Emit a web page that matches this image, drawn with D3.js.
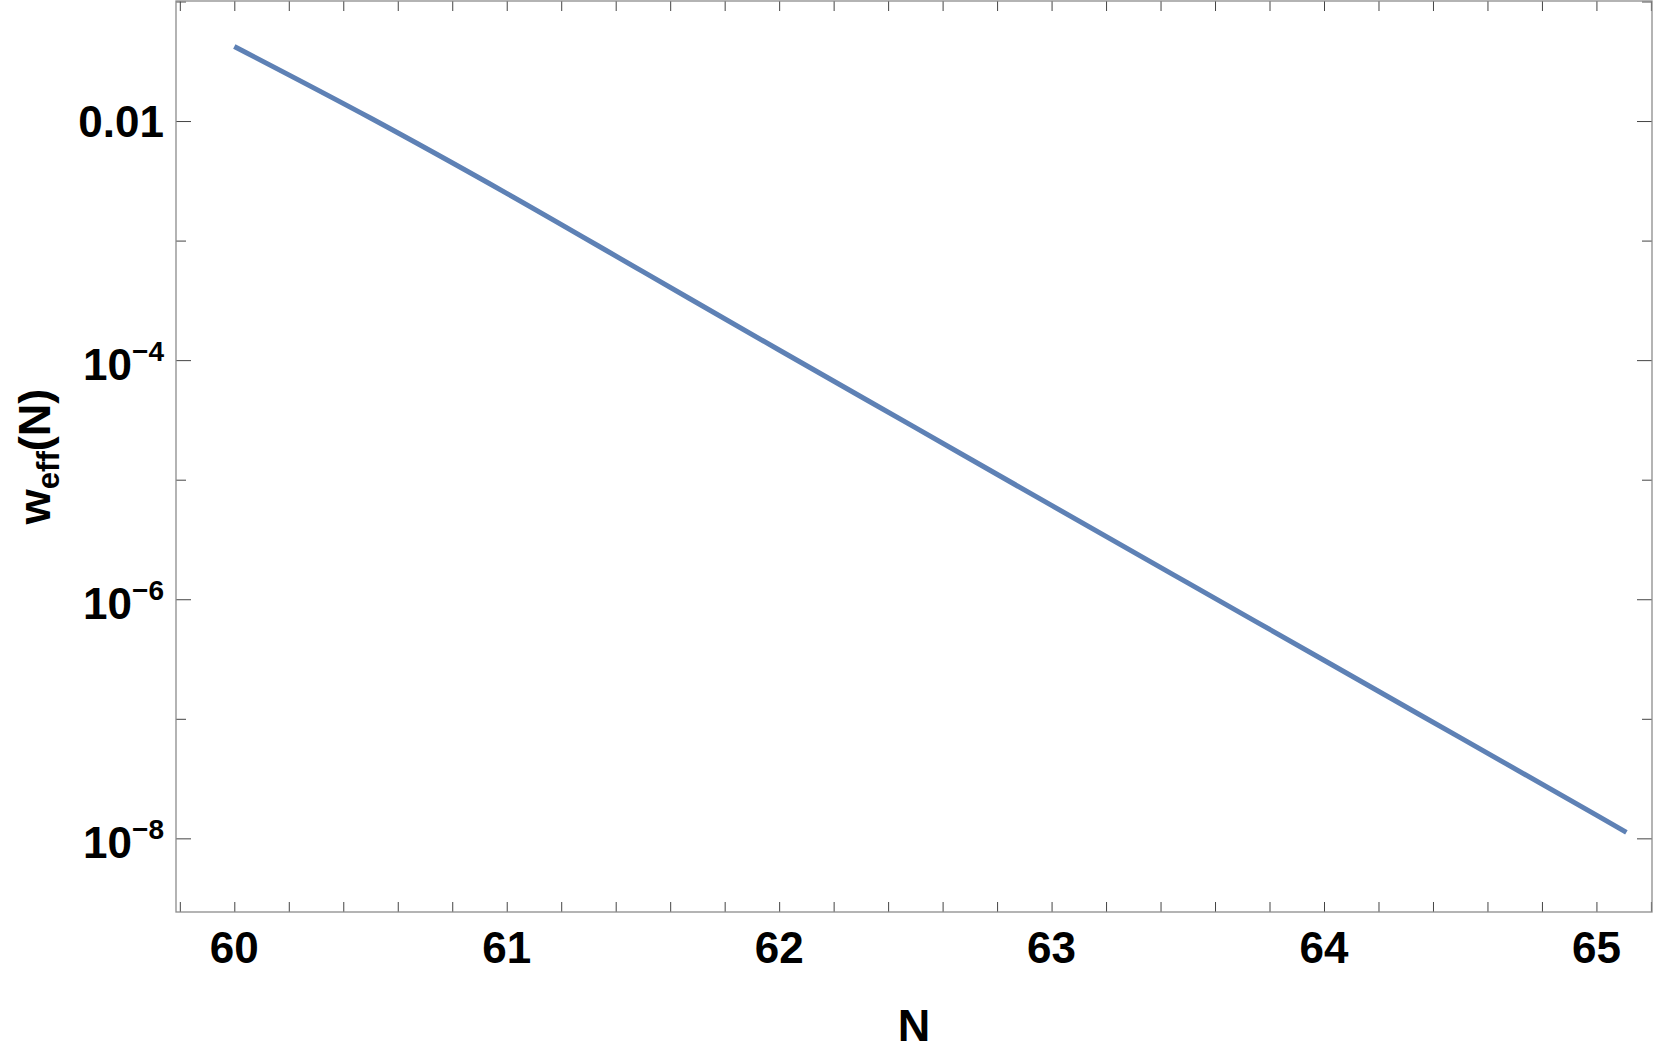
<!DOCTYPE html>
<html>
<head>
<meta charset="utf-8">
<script src="https://cdn.jsdelivr.net/npm/d3@7"></script>
<style>
  body { margin: 0; background: #fff; }
  text { font-family: 'Liberation Sans', Arial, sans-serif; font-weight: bold; fill: #000; }
</style>
</head>
<body>
<div id="chart"></div>
<script>
// curve: w_eff(N) on a log axis
let nValues = [60, 60.5, 61, 61.5, 62, 62.5, 63, 63.5, 64, 64.5, 65, 65.11]
let wValues = [0.042, 0.01059, 2.483e-3, 5.495e-4, 1.216e-4, 2.723e-5, 6.095e-6, 1.371e-6, 3.09e-7, 6.95e-8, 1.563e-8, 1.122e-8]

// tick values and labels
let xMajor = [60, 61, 62, 63, 64, 65]
let xMinor = d3.range(0, 28).map(i => 59.8 + i * 0.2)
let yMajor = [1e-2, 1e-4, 1e-6, 1e-8]
let yMajorLabels = [['0.01', ''], ['10', '−4'], ['10', '−6'], ['10', '−8']]
let yMinor = [1e-1, 1e-3, 1e-5, 1e-7]

let width = 1661
let height = 1055
let plotLeft = 176
let plotRight = 1652
let plotTop = 1
let plotBottom = 912

let svg = d3
  .select('#chart')
  .append('svg')
  .attr('width', width)
  .attr('height', height)

let xScale = d3
  .scaleLinear()
  .domain([59.786, 65.204])
  .range([plotLeft, plotRight])

let yScale = d3
  .scaleLog()
  .domain([Math.pow(10, -8.616), Math.pow(10, -0.996)])
  .range([plotBottom, plotTop])

let tickColor = '#444'

// ticks on all four sides of the frame
function ticks (axis, tx, ty) {
  let g = svg
    .append('g')
    .attr('transform', 'translate(' + tx + ',' + ty + ')')
    .call(axis)
  g.select('.domain').remove()
  g.selectAll('line').attr('stroke', tickColor).attr('stroke-width', 1)
  g.selectAll('text').remove()
  return g
}

ticks(d3.axisBottom(xScale).tickValues(xMinor).tickSize(-10), 0, plotBottom)
ticks(d3.axisTop(xScale).tickValues(xMinor).tickSize(-10), 0, plotTop)
ticks(d3.axisLeft(yScale).tickValues(yMajor).tickSize(-15), plotLeft, 0)
ticks(d3.axisLeft(yScale).tickValues(yMinor).tickSize(-10), plotLeft, 0)
ticks(d3.axisRight(yScale).tickValues(yMajor).tickSize(-15), plotRight, 0)
ticks(d3.axisRight(yScale).tickValues(yMinor).tickSize(-10), plotRight, 0)

// frame
svg
  .append('rect')
  .attr('x', plotLeft)
  .attr('y', plotTop)
  .attr('width', plotRight - plotLeft)
  .attr('height', plotBottom - plotTop)
  .attr('fill', 'none')
  .attr('stroke', '#8c8c8c')
  .attr('stroke-width', 1.3)

// x tick labels
svg
  .append('g')
  .selectAll('text')
  .data(xMajor)
  .enter()
  .append('text')
  .attr('x', d => xScale(d))
  .attr('y', 963)
  .attr('text-anchor', 'middle')
  .style('font-size', '44px')
  .text(d => d)

// y tick labels
let yl = svg
  .append('g')
  .selectAll('text')
  .data(yMajor)
  .enter()
  .append('text')
  .attr('x', 164)
  .attr('y', (d, i) => yScale(d) + (yMajorLabels[i][1] ? 20 : 15.5))
  .attr('text-anchor', 'end')
  .style('font-size', '44px')

yl.append('tspan').text((d, i) => yMajorLabels[i][0])
yl.filter((d, i) => yMajorLabels[i][1] !== '')
  .append('tspan')
  .attr('dy', -19.5)
  .style('font-size', '28px')
  .text(d => yMajorLabels[yMajor.indexOf(d)][1])

// axis labels
svg
  .append('text')
  .attr('x', (plotLeft + plotRight) / 2)
  .attr('y', 1041)
  .attr('text-anchor', 'middle')
  .style('font-size', '45px')
  .text('N')

let ylab = svg
  .append('text')
  .attr('transform', 'translate(50,' + (plotTop + plotBottom) / 2 + ') rotate(-90)')
  .attr('text-anchor', 'middle')
  .style('font-size', '45px')
ylab.append('tspan').text('w')
ylab.append('tspan').attr('dy', 9).style('font-size', '31px').text('eff')
ylab.append('tspan').attr('dy', -9).text('(N)')

// the curve
let line = d3
  .line()
  .x((d, i) => xScale(nValues[i]))
  .y(d => yScale(d))
  .curve(d3.curveMonotoneX)

svg
  .append('path')
  .datum(wValues)
  .attr('fill', 'none')
  .attr('stroke', '#5e81b5')
  .attr('stroke-width', 5)
  .attr('d', line)
</script>
</body>
</html>
